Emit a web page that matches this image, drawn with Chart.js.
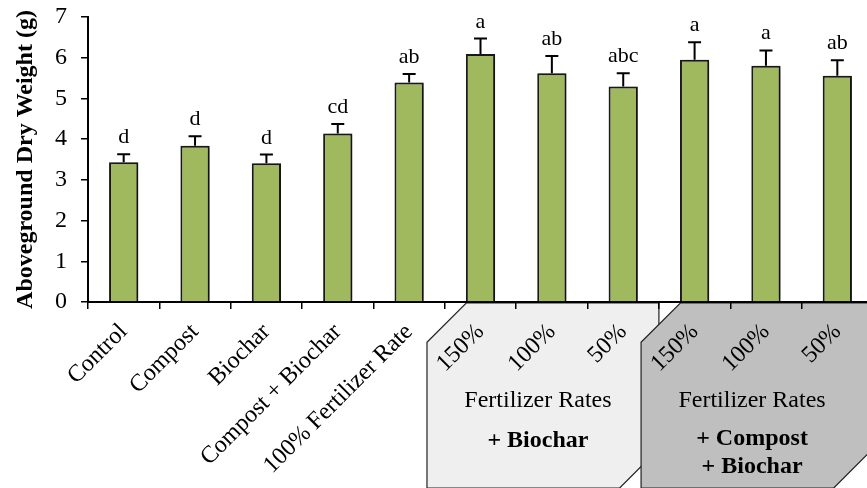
<!DOCTYPE html>
<html>
<head>
<meta charset="utf-8">
<script src="https://cdn.jsdelivr.net/npm/chart.js@4/dist/chart.umd.min.js"></script>
<style>
  html, body { margin: 0; padding: 0; background: #fff; overflow: hidden; }
  #wrap { position: absolute; left: 0; top: 0; width: 873px; height: 488px; }
</style>
</head>
<body>
<div id="wrap"><canvas id="chart" width="873" height="488"></canvas></div>
<script>
// data
const treatments = ["Control", "Compost", "Biochar", "Compost + Biochar", "100% Fertilizer Rate",
                    "150%", "100%", "50%", "150%", "100%", "50%"];
const dryWeight = [3.43, 3.84, 3.41, 4.14, 5.39, 6.09, 5.62, 5.29, 5.95, 5.80, 5.56];
const stdError = [0.20, 0.23, 0.21, 0.23, 0.21, 0.38, 0.42, 0.33, 0.43, 0.38, 0.38];
const letters = ["d", "d", "d", "cd", "ab", "a", "ab", "abc", "a", "a", "ab"];
// groups shown in the shaded boxes under the axis: [first index, last index]
const groupRanges = [[5, 7], [8, 10]];
const groupFills = ["#EFEFEF", "#BFBFBF"];
const groupTitles = [["+ Biochar"], ["+ Compost", "+ Biochar"]];

const serif = "'Liberation Serif', 'Times New Roman', serif";

// shaded boxes behind the rotated labels
const groupBoxes = {
    id: "groupBoxes",
    beforeDraw(chart) {
        const ctx = chart.ctx;
        const x = chart.scales.x;
        const top = chart.chartArea.bottom + 1;
        const bottom = chart.height;
        const w = x.getPixelForValue(1) - x.getPixelForValue(0);
        const c = w * 0.55;
        groupRanges.forEach((r, g) => {
            const start = x.getPixelForValue(r[0]) - w / 2;
            const right = x.getPixelForValue(r[1]) + w / 2;
            const left = start - w * 0.25;
            ctx.save();
            ctx.beginPath();
            ctx.moveTo(left, top + c);
            ctx.lineTo(left + c, top);
            ctx.lineTo(right, top);
            ctx.lineTo(right, bottom - c);
            ctx.lineTo(right - c, bottom);
            ctx.lineTo(left, bottom);
            ctx.closePath();
            ctx.fillStyle = groupFills[g];
            ctx.fill();
            ctx.strokeStyle = "#222";
            ctx.lineWidth = 1.2;
            ctx.stroke();

            const cx = (left + right) / 2 - 5;
            ctx.fillStyle = "#000";
            ctx.textAlign = "center";
            ctx.textBaseline = "middle";
            ctx.font = "24px " + serif;
            ctx.fillText("Fertilizer Rates", cx, 401);
            ctx.font = "bold 24px " + serif;
            const lines = groupTitles[g];
            const y0 = lines.length === 1 ? 441 : 439;
            lines.forEach((t, k) => ctx.fillText(t, cx, y0 + k * 28));
            ctx.restore();
        });
    }
};

// error bars + significance letters
const errorBars = {
    id: "errorBars",
    beforeDatasetsDraw(chart) {
        const ctx = chart.ctx;
        ctx.save();
        ctx.shadowColor = "rgba(0,0,0,0.35)";
        ctx.shadowBlur = 5;
        ctx.shadowOffsetX = 3;
    },
    afterDatasetsDraw(chart) {
        const ctx = chart.ctx;
        ctx.restore();
        const x = chart.scales.x, y = chart.scales.y;
        ctx.save();
        ctx.strokeStyle = "#000";
        ctx.lineWidth = 2;
        ctx.fillStyle = "#000";
        ctx.font = "22px " + serif;
        ctx.textAlign = "center";
        ctx.textBaseline = "alphabetic";
        dryWeight.forEach((v, i) => {
            const px = x.getPixelForValue(i);
            const base = y.getPixelForValue(v);
            const top = y.getPixelForValue(v + stdError[i]);
            ctx.beginPath();
            ctx.moveTo(px, base);
            ctx.lineTo(px, top);
            ctx.moveTo(px - 6.5, top);
            ctx.lineTo(px + 6.5, top);
            ctx.stroke();
            ctx.fillText(letters[i], px, top - 11);
        });
        ctx.restore();
    }
};

new Chart(document.getElementById("chart"), {
    type: "bar",
    data: {
        labels: treatments,
        datasets: [{
            data: dryWeight,
            backgroundColor: "#A0B95E",
            borderColor: "#1a1a1a",
            borderWidth: 2,
            barPercentage: 0.41,
            categoryPercentage: 1
        }]
    },
    options: {
        responsive: false,
        animation: false,
        layout: { padding: { top: 17, left: 0, right: 0, bottom: 0 } },
        plugins: { legend: { display: false }, tooltip: { enabled: false } },
        scales: {
            x: {
                afterFit(scale) { scale.height = 186; },
                border: { color: "#000", width: 2 },
                grid: { drawOnChartArea: false, offset: true, color: "#000", lineWidth: 1.5, tickLength: 7 },
                ticks: {
                    color: "#000",
                    font: { family: serif, size: 24 },
                    autoSkip: false,
                    minRotation: 45,
                    maxRotation: 45,
                    padding: 9
                }
            },
            y: {
                min: 0,
                max: 7,
                afterFit(scale) {
                    scale.width = 88;
                    scale.paddingTop = 0;
                    scale.paddingBottom = 0;
                },
                border: { color: "#000", width: 2 },
                grid: { drawOnChartArea: false, color: "#000", lineWidth: 1.5, tickLength: 7 },
                ticks: {
                    stepSize: 1,
                    color: "#000",
                    font: { family: serif, size: 24 },
                    padding: 14
                },
                title: {
                    display: true,
                    text: "Aboveground Dry Weight (g)",
                    color: "#000",
                    font: { family: serif, size: 24, weight: "bold" },
                    padding: { top: 11, bottom: 0 }
                }
            }
        }
    },
    plugins: [groupBoxes, errorBars]
});
</script>
</body>
</html>
